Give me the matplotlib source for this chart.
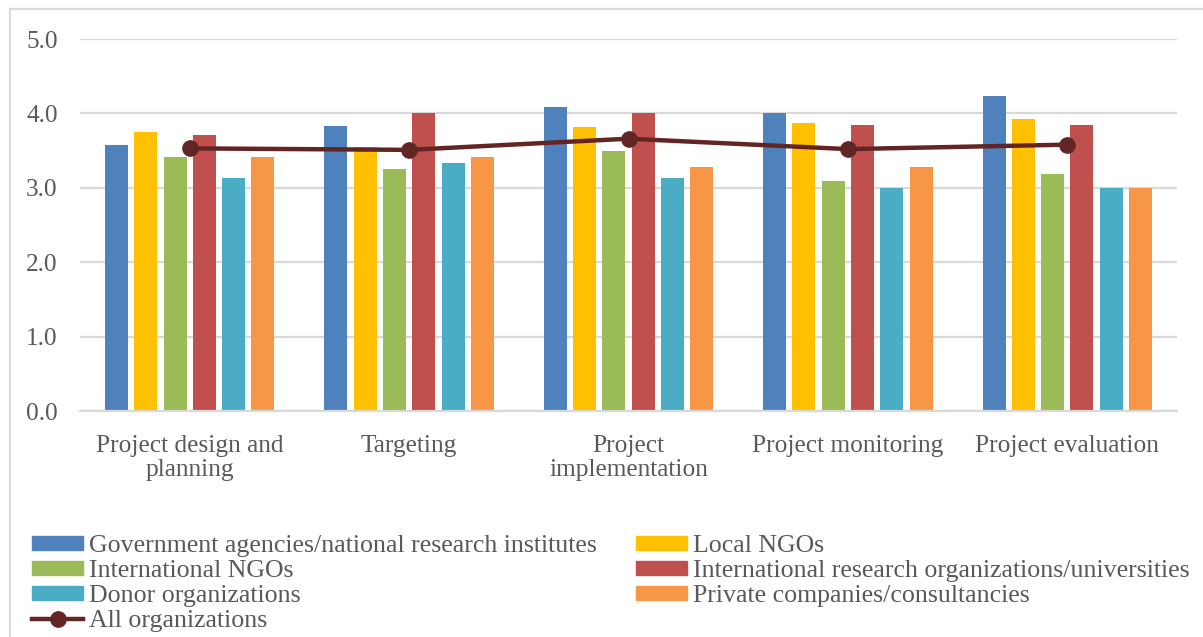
import matplotlib
matplotlib.use("Agg")
import matplotlib.pyplot as plt
import numpy as np
from matplotlib.patches import Rectangle, Patch
from matplotlib.lines import Line2D

plt.rcParams["font.family"] = ["Liberation Serif", "DejaVu Serif"]

categories = ["Project design and\nplanning", "Targeting", "Project\nimplementation",
              "Project monitoring", "Project evaluation"]

series_names = [
    "Government agencies/national research institutes",
    "Local NGOs",
    "International NGOs",
    "International research organizations/universities",
    "Donor organizations",
    "Private companies/consultancies",
]
gov = [3.58, 3.83, 4.08, 4.00, 4.24]
local_ngo = [3.75, 3.55, 3.82, 3.87, 3.93]
intl_ngo = [3.42, 3.25, 3.50, 3.09, 3.19]
intl_research = [3.71, 4.00, 4.00, 3.85, 3.85]
donor = [3.13, 3.33, 3.13, 3.00, 3.00]
private = [3.42, 3.42, 3.28, 3.28, 3.00]
all_orgs = [3.53, 3.51, 3.66, 3.52, 3.58]
y_ticks = [0.0, 1.0, 2.0, 3.0, 4.0, 5.0]

series_values = [gov, local_ngo, intl_ngo, intl_research, donor, private]
colors = ["#4F81BD", "#FFC000", "#9BBB59", "#C0504D", "#4BACC6", "#F79646"]
line_color = "#632523"
text_color = "#595959"
grid_color = "#D9D9D9"

W, H = 1203, 637
fig = plt.figure(figsize=(W / 100, H / 100), dpi=100)
ax = fig.add_axes([80 / W, (H - 411) / H, (1177 - 80) / W, (411 - 39) / H])

x = np.arange(len(categories))
step = 0.1335
width = 0.105
for i, (vals, col) in enumerate(zip(series_values, colors)):
    ax.bar(x + (i - 2.5) * step, vals, width=width, color=col, zorder=2)

ax.plot(x[:len(all_orgs)], all_orgs, color=line_color, lw=3.2, marker="o",
        markersize=11, zorder=3)

ax.set_xlim(-0.5, len(categories) - 0.5)
ax.set_ylim(0, 5.0)
ax.set_yticks(y_ticks)
ax.set_yticklabels([f"{v:.1f}" for v in y_ticks])
ax.set_xticks(x)
ax.set_xticklabels(categories, linespacing=1.12)
ax.yaxis.grid(True, color=grid_color, lw=1.6, zorder=0)
ax.set_axisbelow(True)
for s in ["top", "right", "left"]:
    ax.spines[s].set_visible(False)
ax.spines["bottom"].set_color(grid_color)
ax.spines["bottom"].set_linewidth(1.6)
ax.tick_params(axis="both", length=0, labelsize=18.3, colors=text_color)
ax.tick_params(axis="x", pad=17)
ax.tick_params(axis="y", pad=16)

# outer chart border
fig.patches.append(Rectangle((10 / W, -0.1), 1.2, (H - 9) / H + 0.1,
                             transform=fig.transFigure, fill=False,
                             edgecolor=grid_color, lw=1.6, zorder=0))

handles = [Patch(color=c) for c in colors]
line_handle = Line2D([], [], color=line_color, lw=3.2, marker="o", markersize=11)
order = [0, 2, 4, None, 1, 3, 5]
leg_handles, leg_labels = [], []
for idx in order:
    if idx is None:
        leg_handles.append(line_handle)
        leg_labels.append("All organizations")
    else:
        leg_handles.append(handles[idx])
        leg_labels.append(series_names[idx])

fs = 18.6
leg = fig.legend(leg_handles, leg_labels, ncol=2, loc="upper left",
                 bbox_to_anchor=(32 / W, (H - 535) / H), frameon=False,
                 fontsize=fs, handlelength=51 / (fs * 100 / 72),
                 handleheight=0.45,
                 handletextpad=0.22, columnspacing=1.53, labelspacing=0.12,
                 borderaxespad=0, borderpad=0)
for t in leg.get_texts():
    t.set_color(text_color)

fig.savefig("out.png", dpi=100)
